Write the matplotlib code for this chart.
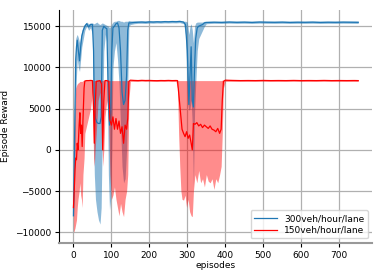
import matplotlib
matplotlib.use('Agg')
import matplotlib.pyplot as plt

# 300veh/hour/lane: episode, median, lower, upper
blue_ep = [0, 2, 4, 6, 8, 10, 13, 16, 19, 22, 26, 30, 35, 40, 45, 50,
           53, 55, 58, 62, 66, 70, 73, 76, 80, 84, 88, 92, 95, 98, 101, 104,
           108, 112, 116, 120, 124, 128, 132, 136, 140, 143, 146, 150, 160,
           170, 180, 190, 200, 210, 220, 230, 240, 250, 260, 270, 280, 290,
           295, 300, 304, 307, 310, 313, 316, 319, 322, 326, 330, 335, 340,
           345, 350, 370, 390, 410, 430, 450, 470, 490, 510, 530, 550, 570,
           590, 610, 630, 650, 670, 690, 710, 730, 750]
blue_mid = [-8000, -2000, 5000, 11000, 12500, 13300, 12000, 10800, 12500, 13800,
            14500, 15000, 15300, 14900, 15200, 15200,
            12000, 5000, 3800, 3300, 3200, 3200, 4000, 14500, 15000, 14800, 14700,
            6000, 3000, 4500, 12000, 14800,
            15000, 15300, 15400, 14800, 12000, 7000, 5500, 6000, 9000, 14500, 15400,
            15400, 15450,
            15480, 15500, 15470, 15520, 15500, 15530, 15510, 15550, 15530, 15560,
            15540, 15580, 15500,
            15200, 12000, 5500, 9000, 12500, 6000, 5200, 10000, 13500, 14800, 15000,
            15100, 15200,
            15400, 15450, 15480, 15460, 15500, 15470, 15490, 15460, 15500, 15480,
            15470, 15490, 15460,
            15480, 15470, 15490, 15460, 15480, 15470, 15490, 15480, 15470]
blue_lo = [-8500, -6000, -1000, 6000, 9000, 11000, 10000, 9500, 11000, 12500,
           13500, 14500, 15000, 14500, 14800, 14000,
           2000, -3000, -6000, -7500, -8500, -9000, -7000, 2000, 12000, 14000, 13000,
           -3000, -7300, -6000, 0, 10000,
           12000, 13000, 11000, 8000, 3000, -2000, -4000, -3500, 0, 8000, 15000,
           15200, 15300,
           15350, 15350, 15330, 15380, 15360, 15390, 15370, 15400, 15390, 15410,
           15400, 15430, 15300,
           14000, 6000, 4800, 5000, 6000, 3000, -4500, 4500, 8000, 12000, 13500,
           14000, 14500,
           15000, 15300, 15350, 15330, 15370, 15340, 15360, 15330, 15370, 15350,
           15340, 15360, 15330,
           15350, 15340, 15360, 15330, 15350, 15340, 15360, 15350, 15340]
blue_hi = [-6000, 3000, 9000, 13500, 13800, 14000, 13600, 13000, 13800, 14500,
           15000, 15300, 15500, 15300, 15400, 15400,
           15300, 15300, 15400, 15500, 15300, 15200, 15300, 15400, 15300, 15200, 15100,
           15000, 14800, 15000, 15300, 15500,
           15600, 15600, 15700, 15700, 15600, 15600, 15500, 15600, 15600, 15600, 15700,
           15650, 15650,
           15650, 15660, 15640, 15680, 15660, 15690, 15670, 15700, 15690, 15710,
           15700, 15720, 15600,
           15600, 15500, 14000, 15000, 15300, 14500, 13000, 15000, 15400, 15500, 15500,
           15500, 15500,
           15600, 15600, 15620, 15600, 15640, 15610, 15630, 15600, 15640, 15620,
           15610, 15630, 15600,
           15620, 15610, 15630, 15600, 15620, 15610, 15630, 15620, 15610]

# 150veh/hour/lane: episode, median, lower, upper
red_ep = [0, 2, 4, 6, 8, 10, 12, 15, 17, 19, 21, 23, 25, 28, 30, 35, 40, 45, 50,
          53, 55, 57, 60, 65, 70, 74, 77, 80, 83, 88, 93, 96, 100, 104, 108, 112,
          116, 120, 124, 128, 132, 136, 140, 143, 146, 150, 160, 170, 180, 190,
          200, 210, 220, 230, 240, 250, 260, 270, 274, 277, 280, 283, 286, 290,
          294, 298, 302, 306, 310, 313, 316, 320, 325, 330, 335, 340, 345, 350,
          355, 360, 365, 370, 375, 380, 385, 389, 392, 395, 400, 420, 440, 460,
          480, 500, 520, 540, 560, 580, 600, 620, 640, 660, 680, 700, 720, 740, 750]
red_mid = [-7000, -5000, -2500, -1000, -1200, 800, 0, 3000, 4500, 2000, 3000, 400,
           3500, 7500, 8350, 8400, 8400, 8420, 8400,
           5000, 800, 5000, 8300, 8350, 8400, 8000, 0, 6000, 8400, 8400, 8300,
           3600, 3000, 4000, 2500, 3800,
           2500, 3500, 2000, 2800, 800, 3000, 2500, 3800, 8300, 8450, 8420, 8400,
           8430, 8410,
           8420, 8400, 8390, 8410, 8400, 8420, 8400, 8410, 8400, 7000, 5500, 4000,
           2500, 2000,
           1600, 2200, 1400, 1800, 800, 0, 3200, 3100, 3300, 2900, 3100, 2700, 3000,
           2800,
           2600, 2900, 2500, 2400, 2200, 2600, 2000, 2500, 6000, 8300, 8450, 8420,
           8400, 8410,
           8400, 8420, 8400, 8410, 8400, 8420, 8400, 8410, 8400, 8420, 8400, 8410,
           8400, 8410, 8400]
red_lo = [-10000, -9800, -9500, -9000, -8500, -7000, -6000, -5000, -4000, -5500,
          -6000, -7000, -3000, -1000, 2000, 3000, 4000, 5000, 7000,
          -1000, -2000, 0, 2000, 6000, 7000, 3000, -2000, 0, 4000, 6000, 3000,
          -3000, -6000, -5500, -4500, -6000,
          -7000, -8000, -6500, -7500, -8100, -6000, -5000, -3000, 6000, 8300, 8300,
          8300, 8320, 8300,
          8310, 8300, 8290, 8300, 8300, 8310, 8300, 8300, 7500, 2000, -2000, -5000,
          -6000, -6100,
          -5500, -7000, -6000, -7500, -8000, -8100, -5000, -3000, -4000, -2500,
          -4000, -3500, -4500, -3000,
          -3800, -4000, -3500, -4800, -3500, -4000, -3000, -2000, 2000, 7500, 8300,
          8300, 8300, 8300,
          8300, 8310, 8300, 8300, 8300, 8310, 8300, 8300, 8300, 8310, 8300, 8300,
          8300, 8300, 8300]
red_hi = [-3000, 1000, 5000, 7500, 7800, 8000, 8100, 8200, 8300, 8300, 8300, 8300,
          8400, 8400, 8450, 8450, 8450, 8450, 8450,
          8450, 8400, 8400, 8450, 8450, 8450, 8450, 8400, 8400, 8450, 8450, 8450,
          8400, 8400, 8400, 8400, 8400,
          8400, 8400, 8400, 8400, 8400, 8400, 8400, 8400, 8450, 8500, 8500, 8480,
          8510, 8500,
          8500, 8490, 8480, 8500, 8490, 8500, 8490, 8500, 8450, 8400, 8400, 8400,
          8400, 8400,
          8400, 8400, 8400, 8400, 8400, 8400, 8400, 8400, 8400, 8400, 8400, 8400,
          8400, 8400,
          8400, 8400, 8400, 8400, 8400, 8400, 8400, 8400, 8450, 8450, 8550, 8500,
          8490, 8500,
          8490, 8500, 8490, 8500, 8490, 8500, 8490, 8500, 8490, 8500, 8490, 8500,
          8490, 8500, 8490]

plt.rcParams['font.family'] = 'DejaVu Sans'
fig, ax = plt.subplots(figsize=(3.82, 2.76), dpi=100)

ax.fill_between(blue_ep, blue_lo, blue_hi, color='#1f77b4', alpha=0.5, linewidth=0)
ax.plot(blue_ep, blue_mid, color='#1f77b4', lw=0.9, label='300veh/hour/lane')
ax.fill_between(red_ep, red_lo, red_hi, color='red', alpha=0.45, linewidth=0)
ax.plot(red_ep, red_mid, color='red', lw=0.9, label='150veh/hour/lane')

ax.set_xticks([0, 100, 200, 300, 400, 500, 600, 700])
ax.set_yticks([-10000, -5000, 0, 5000, 10000, 15000])
ax.tick_params(labelsize=6.5, length=3, pad=2.5)
ax.set_xlabel('episodes', fontsize=6.5, labelpad=1)
ax.set_ylabel('Episode Reward', fontsize=6.5, labelpad=4)
ax.grid(True, color='#b0b0b0', lw=0.9)
ax.set_axisbelow(True)
ax.spines['top'].set_visible(False)
ax.spines['right'].set_visible(False)
ax.spines['bottom'].set_color('#999999')
ax.spines['bottom'].set_linewidth(1.5)
ax.legend(loc='lower right', fontsize=6.5, handlelength=2.5, borderpad=0.4,
          labelspacing=0.3)

plt.subplots_adjust(left=0.155, right=0.975, top=0.965, bottom=0.12)
plt.savefig('out.png', dpi=100)
plt.close()
